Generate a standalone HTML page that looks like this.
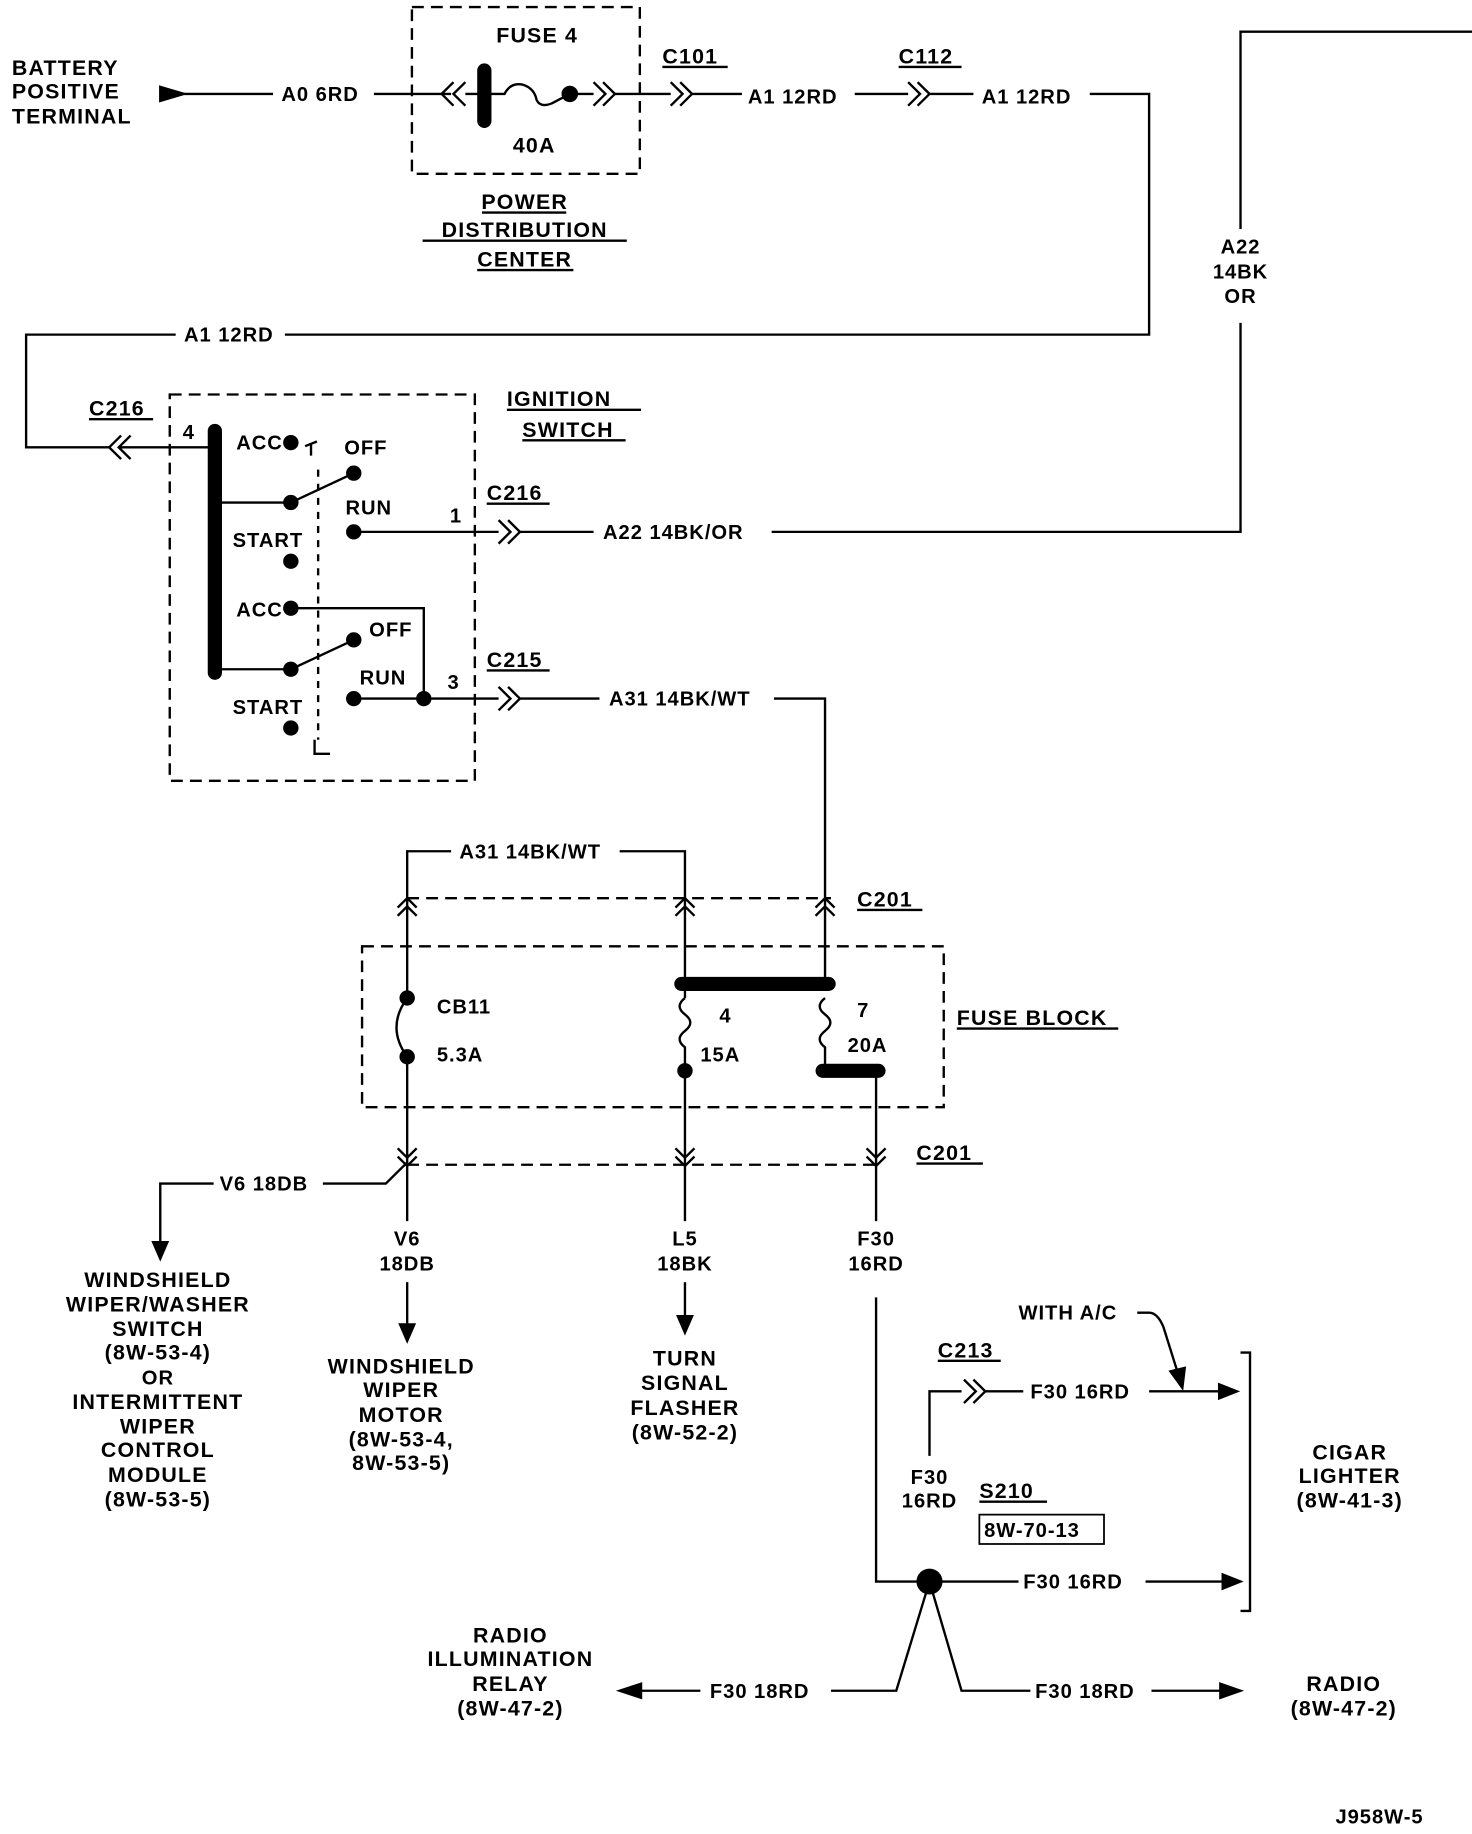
<!DOCTYPE html>
<html><head><meta charset="utf-8"><style>
html,body{margin:0;padding:0;background:#fff;}
svg{display:block;}
text{font-family:"Liberation Sans",sans-serif;font-size:17px;fill:#000;font-weight:bold;letter-spacing:0.8px;}
.b{font-weight:bold;font-size:18px;letter-spacing:1px;}
.c{text-anchor:middle;}
</style></head><body>
<svg width="1472" height="1834" viewBox="0 0 1240 1562" preserveAspectRatio="none" xmlns="http://www.w3.org/2000/svg">
<g stroke="#000" stroke-width="2" fill="none">
<!-- top -->
<path d="M135 74 L155 80 L135 86 Z" fill="#000"/>
<line x1="155" y1="80" x2="230" y2="80"/>
<line x1="315" y1="80" x2="380" y2="80"/>
<rect x="347" y="6" width="192" height="142" stroke-dasharray="10,6"/>
<path d="M382 70 L372 80 L382 90 M392 70 L382 80 L392 90"/>
<line x1="392" y1="80" x2="408" y2="80"/>
<line x1="408" y1="60" x2="408" y2="103" stroke-width="12" stroke-linecap="round"/>
<path d="M408 80 L425 80 Q430 70 440 72 Q450 75 452 85 Q455 92 465 88 L480 80"/>
<circle cx="480" cy="80" r="6" fill="#000"/>
<line x1="480" y1="80" x2="500" y2="80"/>
<path d="M500 70 L510 80 L500 90 M508 70 L518 80 L508 90"/>
<line x1="518" y1="80" x2="565" y2="80"/>
<path d="M565 70 L575 80 L565 90 M573 70 L583 80 L573 90"/>
<line x1="583" y1="80" x2="625" y2="80"/>
<line x1="720" y1="80" x2="765" y2="80"/>
<path d="M765 70 L775 80 L765 90 M773 70 L783 80 L773 90"/>
<line x1="783" y1="80" x2="820" y2="80"/>
<path d="M918 80 L968 80 L968 285 L240 285"/>
<path d="M148 285 L22 285 L22 381 L92 381"/>
<path d="M102 371 L92 381 L102 391 M110 371 L100 381 L110 391"/>
<line x1="100" y1="381" x2="181" y2="381"/>
<!-- ignition -->
<rect x="143" y="336" width="257" height="329" stroke-dasharray="10,6"/>
<line x1="181" y1="367" x2="181" y2="573" stroke-width="12" stroke-linecap="round"/>
<line x1="181" y1="428" x2="245" y2="428"/><line x1="245" y1="428" x2="298" y2="403"/>
<line x1="298" y1="453" x2="420" y2="453"/>
<path d="M420 443 L430 453 L420 463 M428 443 L438 453 L428 463"/>
<line x1="438" y1="453" x2="500" y2="453"/>
<path d="M650 453 L1045 453 L1045 275"/>
<path d="M1045 195 L1045 27 L1240 27"/>
<path d="M245 518 L357 518 L357 595"/>
<line x1="181" y1="570" x2="245" y2="570"/><line x1="245" y1="570" x2="298" y2="545"/>
<line x1="298" y1="595" x2="420" y2="595"/>
<path d="M420 585 L430 595 L420 605 M428 585 L438 595 L428 605"/>
<line x1="438" y1="595" x2="505" y2="595"/>
<path d="M652 595 L695 595 L695 838"/>
<path d="M262 378 L262 388 M257 380 L267 376"/>
<path d="M265 630 L265 642 L278 642"/>
<line x1="268" y1="400" x2="268" y2="630" stroke-dasharray="6,6"/>
<!-- fuse block -->
<path d="M380 725 L343 725 L343 850"/>
<path d="M522 725 L577 725 L577 850"/>
<line x1="343" y1="765" x2="700" y2="765" stroke-dasharray="10,6"/>
<path d="M335 773 L343 765 L351 773 M335 780 L343 772 L351 780"/>
<path d="M569 773 L577 765 L585 773 M569 780 L577 772 L585 780"/>
<path d="M687 773 L695 765 L703 773 M687 780 L695 772 L703 780"/>
<rect x="305" y="806" width="490" height="137" stroke-dasharray="10,6"/>
<line x1="574" y1="838" x2="698" y2="838" stroke-width="12" stroke-linecap="round"/>
<path d="M343 850 Q325 875 343 900"/>
<path d="M577 850 Q568 857 577 864 Q586 871 577 878 Q568 885 577 892 L577 912"/>
<path d="M695 850 Q686 857 695 864 Q704 871 695 878 Q686 885 695 892 L695 912"/>
<line x1="693" y1="912" x2="740" y2="912" stroke-width="12" stroke-linecap="round"/>
<line x1="343" y1="900" x2="343" y2="1040"/>
<line x1="577" y1="912" x2="577" y2="1040"/>
<line x1="738" y1="912" x2="738" y2="1040"/>
<line x1="343" y1="992" x2="738" y2="992" stroke-dasharray="10,6"/>
<path d="M335 978 L343 986 L351 978 M335 985 L343 993 L351 985"/>
<path d="M569 978 L577 986 L585 978 M569 985 L577 993 L585 985"/>
<path d="M730 978 L738 986 L746 978 M730 985 L738 993 L746 985"/>
<path d="M343 990 L325 1008 L272 1008"/>
<path d="M180 1008 L135 1008 L135 1062"/>
<path d="M129 1058 L135 1072 L141 1058 Z" fill="#000"/>
<line x1="343" y1="1092" x2="343" y2="1132"/><path d="M337 1128 L343 1142 L349 1128 Z" fill="#000"/>
<line x1="577" y1="1092" x2="577" y2="1125"/><path d="M571 1121 L577 1135 L583 1121 Z" fill="#000"/>
<!-- bottom right -->
<path d="M738 1105 L738 1347 L783 1347"/>
<line x1="783" y1="1347" x2="858" y2="1347"/>
<line x1="965" y1="1347" x2="1035" y2="1347"/><path d="M1030 1341 L1045 1347 L1030 1353 Z" fill="#000"/>
<path d="M783 1240 L783 1185 L810 1185"/>
<path d="M812 1175 L822 1185 L812 1195 M820 1175 L830 1185 L820 1195"/>
<line x1="830" y1="1185" x2="862" y2="1185"/>
<line x1="968" y1="1185" x2="1032" y2="1185"/><path d="M1027 1179 L1042 1185 L1027 1191 Z" fill="#000"/>
<path d="M958 1118 L968 1118 Q975 1118 980 1130 L993 1172"/><path d="M986 1168 L996 1182 L998 1165 Z" fill="#000"/>
<path d="M1045 1152 L1053 1152 L1053 1372 L1045 1372"/>
<path d="M783 1347 L755 1440 L700 1440"/>
<line x1="590" y1="1440" x2="535" y2="1440"/><path d="M540 1434 L522 1440 L540 1446 Z" fill="#000"/>
<path d="M783 1347 L810 1440 L868 1440"/>
<line x1="970" y1="1440" x2="1030" y2="1440"/><path d="M1028 1434 L1045 1440 L1028 1446 Z" fill="#000"/>
<rect x="825" y="1290" width="105" height="25" stroke-width="1.5"/>
<!-- underlines -->
<line x1="558" y1="57" x2="613" y2="57"/><line x1="757" y1="57" x2="810" y2="57"/>
<line x1="75" y1="357" x2="129" y2="357"/><line x1="410" y1="429" x2="463" y2="429"/>
<line x1="410" y1="571" x2="463" y2="571"/><line x1="722" y1="775" x2="777" y2="775"/>
<line x1="772" y1="991" x2="828" y2="991"/><line x1="790" y1="1159" x2="843" y2="1159"/>
<line x1="825" y1="1279" x2="882" y2="1279"/><line x1="806" y1="876" x2="942" y2="876"/>
<line x1="427" y1="349" x2="540" y2="349"/><line x1="440" y1="375" x2="527" y2="375"/>
<line x1="406" y1="181" x2="477" y2="181"/><line x1="356" y1="205" x2="528" y2="205"/><line x1="402" y1="230" x2="483" y2="230"/>
</g>
<g fill="#000">
<circle cx="245" cy="377" r="6.5"/><circle cx="298" cy="403" r="6.5"/><circle cx="245" cy="428" r="6.5"/>
<circle cx="298" cy="453" r="6.5"/><circle cx="245" cy="478" r="6.5"/><circle cx="245" cy="518" r="6.5"/>
<circle cx="298" cy="545" r="6.5"/><circle cx="245" cy="570" r="6.5"/><circle cx="298" cy="595" r="6.5"/>
<circle cx="357" cy="595" r="6.5"/><circle cx="245" cy="620" r="6.5"/>
<circle cx="343" cy="850" r="6.5"/><circle cx="343" cy="900" r="6.5"/><circle cx="577" cy="912" r="6.5"/>
<circle cx="783" cy="1347" r="11"/>
</g>
<g>
<text class="b" x="10" y="64">BATTERY</text><text class="b" x="10" y="84">POSITIVE</text><text class="b" x="10" y="105">TERMINAL</text>
<text x="237" y="86">A0 6RD</text>
<text class="b" x="418" y="36">FUSE 4</text><text class="b" x="432" y="130">40A</text>
<text class="b c" x="442" y="178">POWER</text><text class="b c" x="442" y="202">DISTRIBUTION</text><text class="b c" x="442" y="227">CENTER</text>
<text class="b" x="558" y="54">C101</text><text class="b" x="757" y="54">C112</text>
<text x="630" y="88">A1 12RD</text><text x="827" y="88">A1 12RD</text>
<text class="c" x="1045" y="216">A22</text><text class="c" x="1045" y="237">14BK</text><text class="c" x="1045" y="258">OR</text>
<text x="155" y="291">A1 12RD</text>
<text class="b" x="75" y="354">C216</text>
<text class="b" x="427" y="346">IGNITION</text><text class="b" x="440" y="372">SWITCH</text>
<text x="154" y="374">4</text>
<text x="199" y="383">ACC</text><text x="290" y="387">OFF</text><text x="291" y="438">RUN</text>
<text x="196" y="466">START</text><text x="199" y="525">ACC</text><text x="311" y="542">OFF</text>
<text x="303" y="583">RUN</text><text x="196" y="608">START</text>
<text x="379" y="445">1</text><text x="377" y="587">3</text>
<text class="b" x="410" y="426">C216</text><text class="b" x="410" y="568">C215</text>
<text x="508" y="459">A22 14BK/OR</text><text x="513" y="601">A31 14BK/WT</text>
<text x="387" y="731">A31 14BK/WT</text>
<text class="b" x="722" y="772">C201</text><text class="b" x="772" y="988">C201</text>
<text class="b" x="806" y="873">FUSE BLOCK</text>
<text x="368" y="863">CB11</text><text x="368" y="904">5.3A</text>
<text x="606" y="871">4</text><text x="590" y="904">15A</text>
<text x="722" y="866">7</text><text x="714" y="896">20A</text>
<text x="185" y="1014">V6 18DB</text>
<text class="c" x="343" y="1061">V6</text><text class="c" x="343" y="1082">18DB</text>
<text class="c" x="577" y="1061">L5</text><text class="c" x="577" y="1082">18BK</text>
<text class="c" x="738" y="1061">F30</text><text class="c" x="738" y="1082">16RD</text>
<text class="b c" x="133" y="1096">WINDSHIELD</text><text class="b c" x="133" y="1117">WIPER/WASHER</text><text class="b c" x="133" y="1138">SWITCH</text>
<text class="b c" x="133" y="1158">(8W-53-4)</text><text class="c" x="133" y="1179">OR</text><text class="b c" x="133" y="1200">INTERMITTENT</text>
<text class="b c" x="133" y="1221">WIPER</text><text class="b c" x="133" y="1241">CONTROL</text><text class="b c" x="133" y="1262">MODULE</text><text class="b c" x="133" y="1283">(8W-53-5)</text>
<text class="b c" x="338" y="1170">WINDSHIELD</text><text class="b c" x="338" y="1190">WIPER</text><text class="b c" x="338" y="1211">MOTOR</text>
<text class="b c" x="338" y="1232">(8W-53-4,</text><text class="b c" x="338" y="1252">8W-53-5)</text>
<text class="b c" x="577" y="1163">TURN</text><text class="b c" x="577" y="1184">SIGNAL</text><text class="b c" x="577" y="1205">FLASHER</text><text class="b c" x="577" y="1226">(8W-52-2)</text>
<text x="858" y="1124">WITH A/C</text>
<text class="b" x="790" y="1156">C213</text>
<text x="868" y="1191">F30 16RD</text>
<text class="c" x="783" y="1264">F30</text><text class="c" x="783" y="1284">16RD</text>
<text class="b" x="825" y="1276">S210</text>
<text x="829" y="1309">8W-70-13</text>
<text x="862" y="1353">F30 16RD</text>
<text class="b c" x="1137" y="1243">CIGAR</text><text class="b c" x="1137" y="1263">LIGHTER</text><text class="b c" x="1137" y="1284">(8W-41-3)</text>
<text x="598" y="1446">F30 18RD</text><text x="872" y="1446">F30 18RD</text>
<text class="b c" x="430" y="1399">RADIO</text><text class="b c" x="430" y="1419">ILLUMINATION</text><text class="b c" x="430" y="1440">RELAY</text><text class="b c" x="430" y="1461">(8W-47-2)</text>
<text class="b c" x="1132" y="1440">RADIO</text><text class="b c" x="1132" y="1461">(8W-47-2)</text>
<text x="1125" y="1553">J958W-5</text>
</g>
</svg>
</body></html>
